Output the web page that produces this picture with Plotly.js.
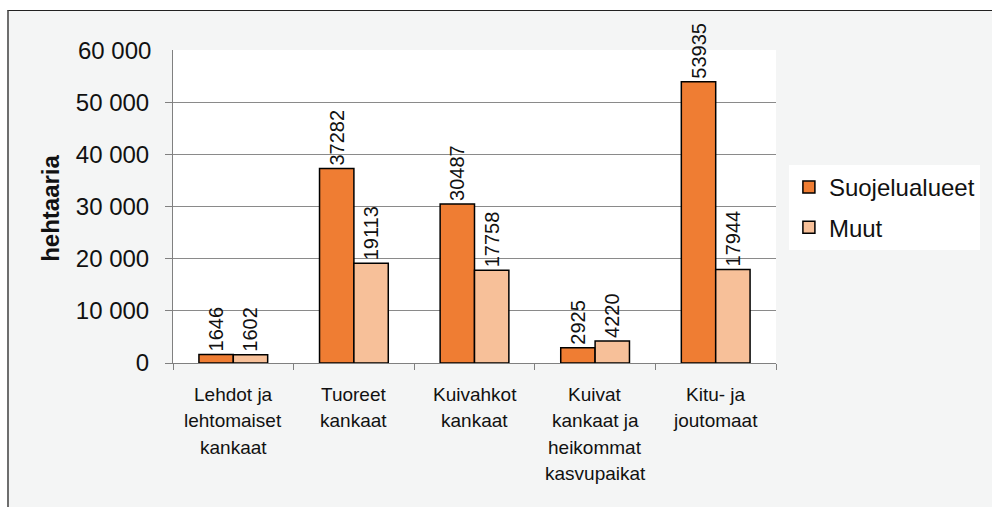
<!DOCTYPE html>
<html>
<head>
<meta charset="utf-8">
<script src="https://cdn.plot.ly/plotly-3.0.1.min.js"></script>
<style>
  html, body { margin: 0; padding: 0; background: #ffffff; width: 992px; height: 507px; overflow: hidden; }
  #wrap { position: absolute; left: 7px; top: 10px; width: 983px; height: 497px;
          border-left: 2px solid #6e6e6e; border-top: 1px solid #222; background: #F4F5F5; }
  #chart { width: 983px; height: 496px; }
</style>
</head>
<body>
<div id="wrap"><div id="chart"></div></div>
<script>
// ---- data ----
const categories = [
  "Lehdot ja|lehtomaiset|kankaat",
  "Tuoreet|kankaat",
  "Kuivahkot|kankaat",
  "Kuivat|kankaat ja|heikommat|kasvupaikat",
  "Kitu- ja|joutomaat"
];
const seriesNames = ["Suojelualueet", "Muut"];
const suojelualueet = [1646, 37282, 30487, 2925, 53935];
const muut = [1602, 19113, 17758, 4220, 17944];
const yTickVals = [0, 10000, 20000, 30000, 40000, 50000];   // ticks with gridlines
const yTopTick = 60000;                                     // top label, no gridline
const yTitle = "hehtaaria";

const FONT = "Liberation Sans, Arial, sans-serif";
const colors = ["#EF7D33", "#F7C099"];
const Y_RANGE = [0, yTopTick];

const xKeys = categories.map(c => c.replace(/\|/g, " "));
const fmt = v => String(v).replace(/\B(?=(\d{3})+(?!\d))/g, " ");

const traces = [suojelualueet, muut].map((vals, i) => ({
  type: "bar",
  name: seriesNames[i],
  x: xKeys,
  y: vals,
  text: vals.map(v => String(v)),
  textposition: "outside",
  textangle: -90,
  constraintext: "none",
  cliponaxis: false,
  textfont: { family: FONT, size: 20, color: "#111" },
  marker: { color: colors[i], line: { color: "#000", width: 1.5 } },
  legendgroup: "g" + i,
  hoverinfo: "skip"
}));

// category labels as annotations (one per line, for line spacing)
const annotations = [];
categories.forEach((c, ci) => {
  c.split("|").forEach((line, li) => {
    annotations.push({
      text: line, xref: "x", yref: "paper", x: xKeys[ci], y: 0,
      yanchor: "middle", xanchor: "center", showarrow: false,
      yshift: -(31 + 26.5 * li),
      font: { family: FONT, size: 19, color: "#111" }
    });
  });
});
// top tick label (the original has no gridline at the top edge)
annotations.push({
  text: fmt(yTopTick), xref: "paper", yref: "y", x: -0.033, y: yTopTick,
  xanchor: "right", yanchor: "middle", showarrow: false,
  font: { family: FONT, size: 24, color: "#111" }
});
annotations.push({
  text: "<b>" + yTitle + "</b>", xref: "paper", yref: "paper",
  x: -0.2043, y: 0.495, xanchor: "center", yanchor: "middle",
  textangle: -90, showarrow: false,
  font: { family: FONT, size: 24, color: "#111" }
});

const layout = {
  width: 983, height: 496,
  margin: { l: 164, r: 212, t: 39, b: 144, pad: 0 },
  paper_bgcolor: "rgba(0,0,0,0)",
  plot_bgcolor: "#ffffff",
  separators: ", ",
  barmode: "group",
  bargap: 0.43,
  bargroupgap: 0,
  showlegend: true,
  legend: {
    x: 1.0214, y: 0.6326, xanchor: "left", yanchor: "top",
    bgcolor: "#ffffff", borderwidth: 0,
    font: { family: FONT, size: 24, color: "#111" },
    traceorder: "grouped", tracegroupgap: 6,
    itemwidth: 30
  },
  xaxis: {
    type: "category",
    showticklabels: false,
    ticks: "outside", tickson: "boundaries", ticklen: 6, tickcolor: "#808080",
    showline: true, linecolor: "#808080", linewidth: 1,
    showgrid: false, zeroline: false, fixedrange: true
  },
  yaxis: {
    range: Y_RANGE,
    tickmode: "array", tickvals: yTickVals, tickformat: ",",
    ticks: "outside", ticklen: 7, tickcolor: "#808080",
    ticklabelstandoff: 11,
    tickfont: { family: FONT, size: 24, color: "#111" },
    showline: true, linecolor: "#808080", linewidth: 1,
    showgrid: true, gridcolor: "#8a8a8a", gridwidth: 1,
    zeroline: false, fixedrange: true
  },
  annotations: annotations
};

Plotly.newPlot("chart", traces, layout, { displayModeBar: false, staticPlot: true });
</script>
</body>
</html>
